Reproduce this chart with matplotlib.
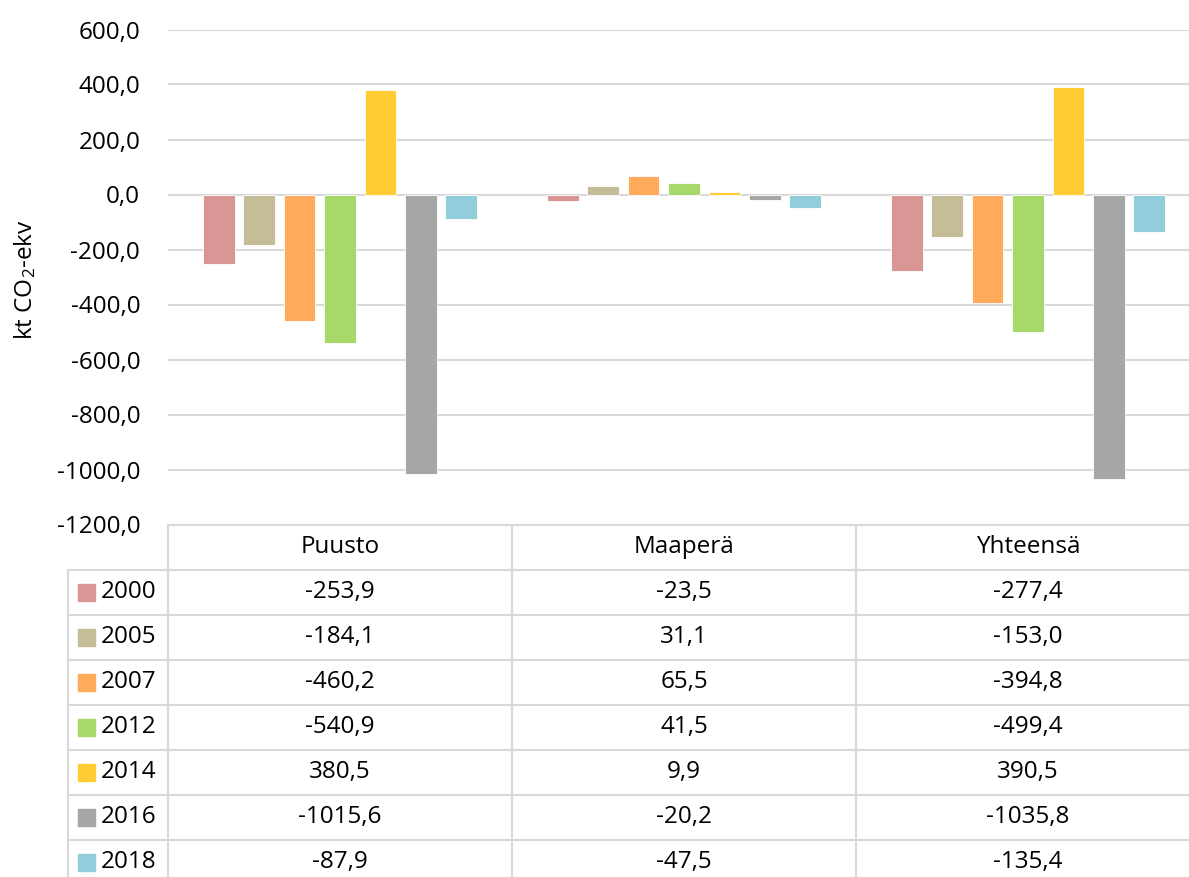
import matplotlib.pyplot as plt
from matplotlib.patches import Rectangle
from matplotlib.ticker import FuncFormatter, MultipleLocator

plt.rcParams["font.family"] = ["Open Sans", "DejaVu Sans"]
plt.rcParams["mathtext.default"] = "regular"

categories = ["Puusto", "Maaperä", "Yhteensä"]
years = ["2000", "2005", "2007", "2012", "2014", "2016", "2018"]
v2000 = [-253.9, -23.5, -277.4]
v2005 = [-184.1, 31.1, -153.0]
v2007 = [-460.2, 65.5, -394.8]
v2012 = [-540.9, 41.5, -499.4]
v2014 = [380.5, 9.9, 390.5]
v2016 = [-1015.6, -20.2, -1035.8]
v2018 = [-87.9, -47.5, -135.4]
series = [v2000, v2005, v2007, v2012, v2014, v2016, v2018]
colors = ["#D99694", "#C4BD97", "#FFAB5B", "#A6D86A", "#FFCC33", "#A6A6A6", "#92CDDC"]

W, H = 1189, 877
GRID = "#D9D9D9"
FS = 17.5


def fmt(v):
    return f"{v:.1f}".replace(".", ",")


fig = plt.figure(figsize=(W / 100, H / 100), dpi=100)

# plot area in pixels (right edge runs past the picture, as in the source)
x0, x1 = 168, 1200
ytop, ybot = 29.5, 524.5
ax = fig.add_axes([x0 / W, 1 - ybot / H, (x1 - x0) / W, (ybot - ytop) / H])
ax.set_xlim(0, len(categories))
ax.set_ylim(-1200, 600)
ax.yaxis.set_major_locator(MultipleLocator(200))
ax.yaxis.set_major_formatter(FuncFormatter(lambda v, _: fmt(v)))
ax.grid(axis="y", color=GRID, linewidth=1.5)
ax.set_axisbelow(True)
for s in ax.spines.values():
    s.set_visible(False)
ax.tick_params(axis="y", length=0, pad=20, labelsize=FS)
ax.tick_params(axis="x", length=0, labelbottom=False)

step = 0.1174
width = 0.0916
for j, (vals, col) in enumerate(zip(series, colors)):
    xs = [i + 0.5 + (j - 3) * step for i in range(len(categories))]
    ax.bar(xs, vals, width=width, color=col, edgecolor="white", linewidth=0.6, zorder=3)

fig.text(25 / W, 1 - 280 / H, "kt CO$_{2}$-ekv", rotation=90, ha="center", va="center",
         fontsize=FS)

# data table below the plot, drawn in pixel coordinates
tab = fig.add_axes([0, 0, 1, 1])
tab.set_xlim(0, W)
tab.set_ylim(H, 0)
tab.axis("off")

col_w = (x1 - x0) / len(categories)
row_h = 45
head_top = ybot
rows_top = head_top + row_h
leg_left = 68
n_rows = len(years)
bottom = rows_top + row_h * n_rows

lw = 1.5
tab.plot([x0, x1], [head_top, head_top], color=GRID, lw=lw)
for k in range(len(categories) + 1):
    xx = x0 + k * col_w
    tab.plot([xx, xx], [head_top, bottom], color=GRID, lw=lw)
tab.plot([leg_left, leg_left], [rows_top, bottom], color=GRID, lw=lw)
for r in range(n_rows + 1):
    yy = rows_top + r * row_h
    tab.plot([leg_left, x1], [yy, yy], color=GRID, lw=lw)

for k, name in enumerate(categories):
    tab.text(x0 + (k + 0.5) * col_w, head_top + row_h / 2, name, ha="center", va="center",
             fontsize=FS)

for r, (yr, vals, col) in enumerate(zip(years, series, colors)):
    yc = rows_top + (r + 0.5) * row_h
    tab.add_patch(Rectangle((78, yc - 8.5), 17, 17, color=col))
    tab.text(101, yc, yr, ha="left", va="center", fontsize=FS)
    for k, v in enumerate(vals):
        tab.text(x0 + (k + 0.5) * col_w, yc, fmt(v), ha="center", va="center", fontsize=FS)

fig.savefig("out.png", dpi=100)
